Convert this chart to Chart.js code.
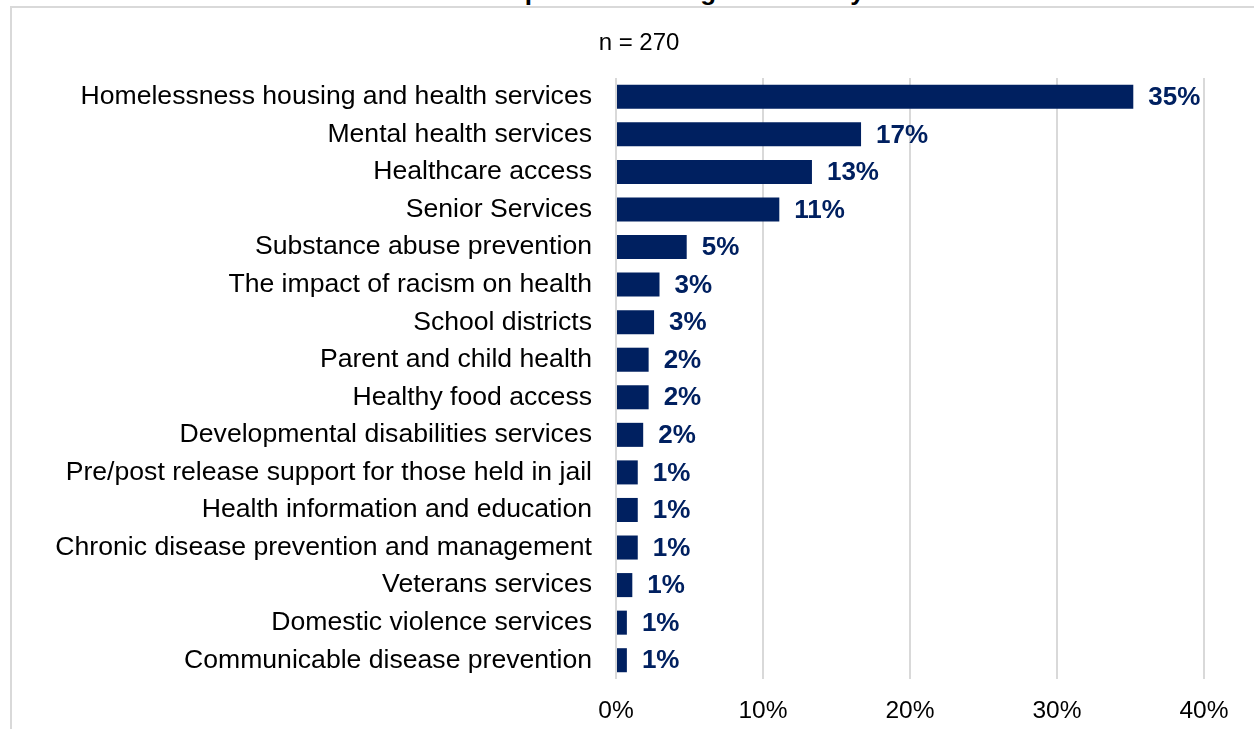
<!DOCTYPE html>
<html>
<head>
<meta charset="utf-8">
<script src="https://cdn.jsdelivr.net/npm/chart.js@4"></script>
<style>
  html, body { margin: 0; padding: 0; background: #fff; overflow: hidden; }
  #wrap { position: relative; width: 1254px; height: 729px; overflow: hidden; }
  #frame { position: absolute; left: 10px; top: 6px; width: 1300px; height: 800px;
           border-left: 2px solid #d9d9d9; border-top: 2px solid #d9d9d9; box-sizing: border-box; }
  #title { position: absolute; left: 16px; top: -24px; font: bold 26px "Liberation Sans", Arial, sans-serif;
           line-height: 30px; color: #000; white-space: nowrap; letter-spacing: 0.5px; }
  canvas { position: absolute; left: 0; top: 0; }
</style>
</head>
<body>
<div id="wrap">
  <div id="frame"></div>
  <div id="title">Services for Residents – Considered Important Among the County</div>
  <canvas id="c" width="1254" height="729"></canvas>
</div>
<script>
const categories = [
  "Homelessness housing and health services",
  "Mental health services",
  "Healthcare access",
  "Senior Services",
  "Substance abuse prevention",
  "The impact of racism on health",
  "School districts",
  "Parent and child health",
  "Healthy food access",
  "Developmental disabilities services",
  "Pre/post release support for those held in jail",
  "Health information and education",
  "Chronic disease prevention and management",
  "Veterans services",
  "Domestic violence services",
  "Communicable disease prevention"
];
const percentValues = [35.19, 16.67, 13.33, 11.11, 4.81, 2.96, 2.59, 2.22, 2.22, 1.85, 1.48, 1.48, 1.48, 1.11, 0.74, 0.74];
const valueLabels = ["35%", "17%", "13%", "11%", "5%", "3%", "3%", "2%", "2%", "2%", "1%", "1%", "1%", "1%", "1%", "1%"];
const xTicks = [0, 10, 20, 30, 40];
const subtitleText = "n = 270";

const FONT = '"Liberation Sans", Arial, sans-serif';
const NAVY = '#002060';

const labelPlugin = {
  id: 'barLabels',
  afterDatasetsDraw(chart) {
    const ctx = chart.ctx;
    const meta = chart.getDatasetMeta(0);
    ctx.save();
    ctx.font = 'bold 26px ' + FONT;
    ctx.fillStyle = NAVY;
    ctx.textAlign = 'left';
    ctx.textBaseline = 'middle';
    meta.data.forEach((bar, i) => {
      ctx.fillText(valueLabels[i], bar.x + 15, bar.y + 1);
    });
    ctx.restore();
  },
  afterDraw(chart) {
    const ctx = chart.ctx;
    ctx.save();
    ctx.font = '24px ' + FONT;
    ctx.fillStyle = '#000';
    ctx.textAlign = 'center';
    ctx.textBaseline = 'middle';
    ctx.fillText(subtitleText, 639, 43);
    ctx.restore();
  }
};

new Chart(document.getElementById('c'), {
  type: 'bar',
  data: {
    labels: categories,
    datasets: [{
      data: percentValues,
      backgroundColor: NAVY,
      borderWidth: 0,
      barPercentage: 0.64,
      categoryPercentage: 1.0
    }]
  },
  options: {
    indexAxis: 'y',
    responsive: false,
    animation: false,
    devicePixelRatio: 1,
    layout: { padding: { top: 78, right: 50, bottom: 0, left: 0 } },
    plugins: { legend: { display: false }, tooltip: { enabled: false }, title: { display: false } },
    scales: {
      x: {
        type: 'linear',
        min: 0, max: 40,
        afterBuildTicks(scale) { scale.ticks = xTicks.map(v => ({ value: v })); },
        afterFit(scale) { scale.height = 50; },
        grid: { color: '#d9d9d9', lineWidth: 2, drawTicks: false },
        border: { display: false },
        ticks: {
          padding: 18,
          color: '#000',
          font: { family: FONT, size: 24.5 },
          callback: v => v + '%'
        }
      },
      y: {
        afterFit(scale) { scale.width = 616; },
        grid: { display: false, drawTicks: false },
        border: { display: false },
        ticks: {
          padding: 24,
          color: '#000',
          font: { family: FONT, size: 26.6 },
          autoSkip: false
        }
      }
    }
  },
  plugins: [labelPlugin]
});
</script>
</body>
</html>
